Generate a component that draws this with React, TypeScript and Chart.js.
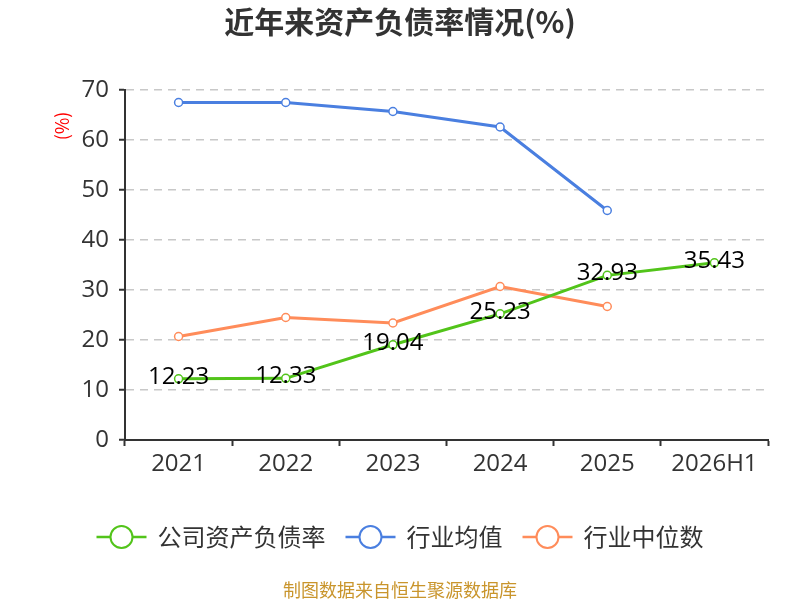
import { useEffect, useRef } from 'react';
import { Chart, registerables } from 'chart.js';

Chart.register(...registerables);

const categories = ['2021', '2022', '2023', '2024', '2025', '2026H1'];
const companyRatio = [12.23, 12.33, 19.04, 25.23, 32.93, 35.43];
const industryMean = [67.5, 67.5, 65.7, 62.6, 45.9, null];
const industryMedian = [20.7, 24.5, 23.4, 30.7, 26.7, null];
const seriesNames = ['公司资产负债率', '行业均值', '行业中位数'];
const seriesColors = ['#52c41a', '#4a7fe0', '#ff8c5a'];

const FONT = '"Open Sans", "Noto Sans CJK SC", sans-serif';
const CJK = '"Noto Sans CJK SC", sans-serif';

const decorations = {
  id: 'decorations',
  afterDatasetsDraw(chart: any) {
    const { ctx } = chart;
    // value labels for the company series
    const meta = chart.getDatasetMeta(0);
    ctx.save();
    ctx.font = `24px ${FONT}`;
    ctx.fillStyle = '#000';
    ctx.textAlign = 'center';
    ctx.textBaseline = 'middle';
    meta.data.forEach((pt: any, i: number) => {
      ctx.fillText(companyRatio[i].toFixed(2), pt.x, pt.y - 2);
    });
    ctx.restore();
  },
  afterDraw(chart: any) {
    const { ctx } = chart;
    ctx.save();
    // title
    ctx.font = `bold 30px ${CJK}`;
    ctx.fillStyle = '#333';
    ctx.textAlign = 'center';
    ctx.textBaseline = 'middle';
    ctx.fillText('近年来资产负债率情况(%)', 400, 22);

    // y axis unit
    ctx.save();
    ctx.translate(62, 126);
    ctx.rotate(-Math.PI / 2);
    ctx.font = `18px ${CJK}`;
    ctx.fillStyle = '#ff0000';
    ctx.fillText('(%)', 0, 0);
    ctx.restore();

    // legend
    ctx.font = `24px ${CJK}`;
    const markerW = 50;
    const gapText = 11;
    const gapItem = 20;
    const widths = seriesNames.map((n) => markerW + gapText + ctx.measureText(n).width);
    const total = widths.reduce((a, b) => a + b, 0) + gapItem * (widths.length - 1);
    let x = 400 - total / 2;
    const y = 537;
    seriesNames.forEach((name, i) => {
      ctx.strokeStyle = seriesColors[i];
      ctx.lineWidth = 2.5;
      ctx.beginPath();
      ctx.moveTo(x, y);
      ctx.lineTo(x + markerW, y);
      ctx.stroke();
      ctx.beginPath();
      ctx.arc(x + markerW / 2, y, 11, 0, Math.PI * 2);
      ctx.fillStyle = '#fff';
      ctx.fill();
      ctx.lineWidth = 2;
      ctx.stroke();
      ctx.fillStyle = '#333';
      ctx.textAlign = 'left';
      ctx.fillText(name, x + markerW + gapText, y);
      x += widths[i] + gapItem;
    });

    // source note
    ctx.font = `18px ${CJK}`;
    ctx.fillStyle = '#c9952c';
    ctx.textAlign = 'center';
    ctx.fillText('制图数据来自恒生聚源数据库', 400, 590);
    ctx.restore();
  },
};

function makeSeries(label: string, data: (number | null)[], color: string) {
  return {
    label,
    data,
    borderColor: color,
    backgroundColor: '#fff',
    pointBorderColor: color,
    pointBackgroundColor: '#fff',
    borderWidth: 3,
    pointRadius: 4,
    pointBorderWidth: 1.5,
    tension: 0,
    spanGaps: false,
  };
}

export default function App() {
  const chartRef = useRef<HTMLCanvasElement>(null);

  useEffect(() => {
    if (!chartRef.current) return;
    const ctx = chartRef.current.getContext('2d');
    if (!ctx) return;

    const chart = new Chart(ctx, {
      type: 'line',
      data: {
        labels: categories,
        datasets: [
          makeSeries(seriesNames[0], companyRatio, seriesColors[0]),
          makeSeries(seriesNames[1], industryMean, seriesColors[1]),
          makeSeries(seriesNames[2], industryMedian, seriesColors[2]),
        ],
      },
      options: {
        responsive: true,
        maintainAspectRatio: false,
        animation: false,
        layout: { padding: { top: 90, right: 32, bottom: 0, left: 0 } },
        plugins: {
          legend: { display: false },
          title: { display: false },
          tooltip: { enabled: false },
        },
        scales: {
          x: {
            offset: true,
            afterFit: (scale: any) => {
              scale.height = 160;
            },
            grid: {
              offset: true,
              drawOnChartArea: false,
              drawTicks: true,
              tickLength: 6,
              tickColor: '#333',
              tickWidth: 2,
            },
            border: { color: '#333', width: 2 },
            ticks: {
              color: '#333',
              font: { size: 24, family: FONT },
              padding: 4,
              maxRotation: 0,
            },
          },
          y: {
            min: 0,
            max: 70,
            afterFit: (scale: any) => {
              scale.width = 125;
            },
            grid: {
              color: (c: any) => (c.tick && c.tick.value === 0 ? 'rgba(0,0,0,0)' : '#c8c8c8'),
              lineWidth: 1.5,
              tickLength: 6,
              tickColor: '#333',
              tickWidth: 2,
            },
            border: { color: '#333', width: 2, dash: [8, 6] },
            ticks: {
              stepSize: 10,
              color: '#333',
              font: { size: 24, family: FONT },
              padding: 10,
            },
          },
        },
      },
      plugins: [decorations],
    });

    return () => chart.destroy();
  }, []);

  return (
    <div style={{ position: 'absolute', left: 0, top: 0, width: 800, height: 600 }}>
      <canvas ref={chartRef} />
    </div>
  );
}
